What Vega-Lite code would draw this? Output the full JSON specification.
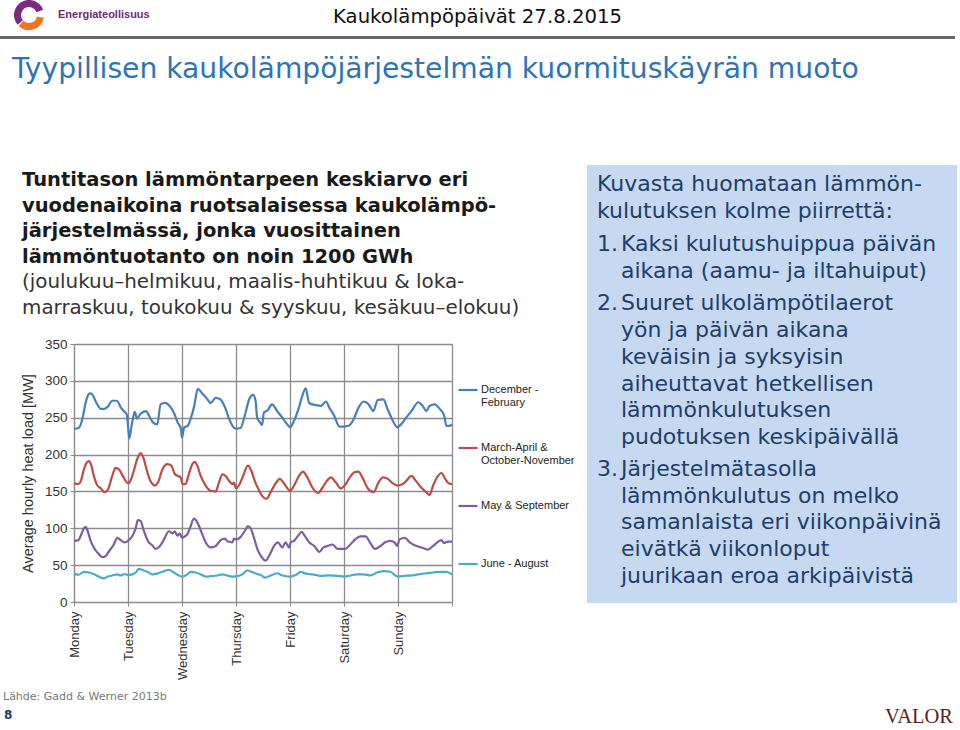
{
  "$schema": "https://vega.github.io/schema/vega-lite/v6.json",
  "background": "white",
  "padding": 0,
  "columns": 4,
  "align": "each",
  "bounds": "flush",
  "spacing": 0,
  "config": {"view": {"stroke": null}},
  "concat": [
    {"width": 74, "height": 36, "data": {"values": [{}]},
     "layer": [
       {"mark": {"type": "arc", "theta": 4.0, "theta2": 7.5, "innerRadius": 8, "outerRadius": 15, "color": "#7A2B7E", "xOffset": -8, "yOffset": -3}, "encoding": {}},
       {"mark": {"type": "arc", "theta": 1.75, "theta2": 3.9, "innerRadius": 8, "outerRadius": 15, "color": "#EE7623", "xOffset": -8, "yOffset": -3}, "encoding": {}}
     ]},
    {"width": 378, "height": 36,
     "encoding": {"x": {"datum": 0, "type": "quantitative", "scale": {"domain": [0, 1]}, "axis": null}, "text": {"field": "t"}},
     "layer": [
       {"data": {"values": [{"t": "Energiateollisuus"}]}, "mark": {"type": "text", "align": "left", "baseline": "middle", "dx": -16, "dy": -3, "font": "Liberation Sans", "fontSize": 11, "fontWeight": "bold", "color": "#6E2B73"}},
       {"data": {"values": [{"t": "Kaukolämpöpäivät 27.8.2015"}]}, "mark": {"type": "text", "align": "left", "baseline": "middle", "dx": 259, "dy": -1, "font": "DejaVu Sans", "fontSize": 19.7, "color": "#111111"}}
     ]},
    {"width": 135, "height": 36, "data": {"values": [{}]}, "mark": {"type": "text", "text": ""}},
    {"width": 370, "height": 36, "data": {"values": [{}]}, "mark": {"type": "text", "text": ""}},

    {"width": 74, "height": 3, "view": {"fill": "#666666"}, "data": {"values": [{}]}, "mark": {"type": "text", "text": ""}},
    {"width": 378, "height": 3, "view": {"fill": "#666666"}, "data": {"values": [{}]}, "mark": {"type": "text", "text": ""}},
    {"width": 135, "height": 3, "view": {"fill": "#666666"}, "data": {"values": [{}]}, "mark": {"type": "text", "text": ""}},
    {"width": 368, "height": 3, "view": {"fill": "#666666"}, "data": {"values": [{}]}, "mark": {"type": "text", "text": ""}},

    {"width": 74, "height": 126,
     "data": {"values": [{"t": "Tyypillisen kaukolämpöjärjestelmän kuormituskäyrän muoto"}]},
     "mark": {"type": "text", "align": "left", "baseline": "middle", "dx": 12, "dy": -32, "font": "DejaVu Sans", "fontSize": 28.2, "color": "#2E74B5"},
     "encoding": {"x": {"datum": 0, "type": "quantitative", "scale": {"domain": [0, 1]}, "axis": null}, "text": {"field": "t"}}},
    {"width": 378, "height": 126, "data": {"values": [{}]}, "mark": {"type": "text", "text": ""}},
    {"width": 135, "height": 126, "data": {"values": [{}]}, "mark": {"type": "text", "text": ""}},
    {"width": 370, "height": 126, "data": {"values": [{}]}, "mark": {"type": "text", "text": ""}},

    {"width": 74, "height": 179, "data": {"values": [{}]}, "mark": {"type": "text", "text": ""}},
    {"width": 378, "height": 179,
     "encoding": {
       "x": {"datum": 0, "type": "quantitative", "scale": {"domain": [0, 1]}, "axis": null},
       "y": {"field": "i", "type": "ordinal", "scale": {"type": "point", "padding": 1.391, "align": 0.297}, "axis": null},
       "text": {"field": "t"}},
     "layer": [
       {"data": {"values": [
         {"i": 0, "t": "Tuntitason lämmöntarpeen keskiarvo eri"},
         {"i": 1, "t": "vuodenaikoina ruotsalaisessa kaukolämpö-"},
         {"i": 2, "t": "järjestelmässä, jonka vuosittainen"},
         {"i": 3, "t": "lämmöntuotanto on noin 1200 GWh"}]},
        "mark": {"type": "text", "align": "left", "baseline": "middle", "dx": -52, "font": "DejaVu Sans", "fontSize": 19.5, "fontWeight": "bold", "color": "#1a1a1a"}},
       {"data": {"values": [
         {"i": 4, "t": "(joulukuu–helmikuu, maalis-huhtikuu & loka-"},
         {"i": 5, "t": "marraskuu, toukokuu & syyskuu, kesäkuu–elokuu)"}]},
        "mark": {"type": "text", "align": "left", "baseline": "middle", "dx": -52, "font": "DejaVu Sans", "fontSize": 19.9, "color": "#333333"}}
     ]},
    {"width": 135, "height": 179, "data": {"values": [{}]}, "mark": {"type": "text", "text": ""}},
    {"width": 370, "height": 179, "view": {"fill": "#C6D9F1"},
     "encoding": {
       "x": {"datum": 0, "type": "quantitative", "scale": {"domain": [0, 1]}, "axis": null},
       "y": {"field": "i", "type": "ordinal", "scale": {"type": "point", "padding": 0.8396, "align": 0.422}, "axis": null}},
     "layer": [
       {"data": {"values": [{"i": 0, "t": "Kuvasta huomataan lämmön-"}, {"i": 1, "t": "kulutuksen kolme piirrettä:"}]},
        "mark": {"type": "text", "align": "left", "baseline": "middle", "dx": 10, "font": "DejaVu Sans", "fontSize": 22, "color": "#213F69"},
        "encoding": {"text": {"field": "t"}}},
       {"data": {"values": [{"i": 2, "n": "1.", "t": "Kaksi kulutushuippua päivän"}, {"i": 3, "n": "", "t": "aikana (aamu- ja iltahuiput)"}]},
        "layer": [
          {"mark": {"type": "text", "align": "left", "baseline": "middle", "dx": 10, "dy": 6.4, "font": "DejaVu Sans", "fontSize": 22, "color": "#213F69"}, "encoding": {"text": {"field": "n"}}},
          {"mark": {"type": "text", "align": "left", "baseline": "middle", "dx": 34, "dy": 6.4, "font": "DejaVu Sans", "fontSize": 22, "color": "#213F69"}, "encoding": {"text": {"field": "t"}}}
        ]},
       {"data": {"values": [{"i": 4, "n": "2.", "t": "Suuret ulkolämpötilaerot"}, {"i": 5, "n": "", "t": "yön ja päivän aikana"}]},
        "layer": [
          {"mark": {"type": "text", "align": "left", "baseline": "middle", "dx": 10, "dy": 12, "font": "DejaVu Sans", "fontSize": 22, "color": "#213F69"}, "encoding": {"text": {"field": "n"}}},
          {"mark": {"type": "text", "align": "left", "baseline": "middle", "dx": 34, "dy": 12, "font": "DejaVu Sans", "fontSize": 22, "color": "#213F69"}, "encoding": {"text": {"field": "t"}}}
        ]}
     ]},

    {"width": 74, "height": 259, "data": {"values": [{}]}, "mark": {"type": "text", "text": ""}},
    {"width": 378, "height": 258,
     "view": {"stroke": "#a0a0a0", "strokeWidth": 1},
     "data": {"values": [
{"s":"December - February","h":0,"v":235},{"s":"December - February","h":2,"v":236},{"s":"December - February","h":4,"v":252},{"s":"December - February","h":5,"v":268},{"s":"December - February","h":6,"v":279},{"s":"December - February","h":7,"v":283},{"s":"December - February","h":8,"v":282},{"s":"December - February","h":10,"v":270},{"s":"December - February","h":12,"v":262},{"s":"December - February","h":13.5,"v":262},{"s":"December - February","h":15,"v":265},{"s":"December - February","h":17,"v":273},{"s":"December - February","h":19,"v":273},{"s":"December - February","h":21,"v":263},{"s":"December - February","h":22.5,"v":258},{"s":"December - February","h":23.5,"v":254},{"s":"December - February","h":24,"v":238},{"s":"December - February","h":24.6,"v":222},{"s":"December - February","h":25.6,"v":239},{"s":"December - February","h":27,"v":258},{"s":"December - February","h":28,"v":249},{"s":"December - February","h":29.5,"v":255},{"s":"December - February","h":32,"v":259},{"s":"December - February","h":33.5,"v":252},{"s":"December - February","h":35,"v":244},{"s":"December - February","h":37,"v":241},{"s":"December - February","h":38.5,"v":268},{"s":"December - February","h":40.5,"v":270},{"s":"December - February","h":42.5,"v":266},{"s":"December - February","h":44.5,"v":256},{"s":"December - February","h":46,"v":244},{"s":"December - February","h":47.5,"v":235},{"s":"December - February","h":48,"v":223},{"s":"December - February","h":49,"v":237},{"s":"December - February","h":50.5,"v":239},{"s":"December - February","h":52,"v":250},{"s":"December - February","h":53.5,"v":267},{"s":"December - February","h":55,"v":289},{"s":"December - February","h":57,"v":283},{"s":"December - February","h":59.3,"v":275},{"s":"December - February","h":60.7,"v":270},{"s":"December - February","h":63,"v":277},{"s":"December - February","h":65,"v":275},{"s":"December - February","h":67.4,"v":262},{"s":"December - February","h":69,"v":248},{"s":"December - February","h":70.4,"v":239},{"s":"December - February","h":72,"v":235},{"s":"December - February","h":74,"v":236},{"s":"December - February","h":76,"v":254},{"s":"December - February","h":78,"v":276},{"s":"December - February","h":79.6,"v":281},{"s":"December - February","h":80.7,"v":273},{"s":"December - February","h":81.4,"v":250},{"s":"December - February","h":82.6,"v":244},{"s":"December - February","h":83.6,"v":240},{"s":"December - February","h":84.4,"v":257},{"s":"December - February","h":86,"v":260},{"s":"December - February","h":88,"v":268},{"s":"December - February","h":90.3,"v":259},{"s":"December - February","h":92.6,"v":250},{"s":"December - February","h":94.8,"v":241},{"s":"December - February","h":96,"v":237},{"s":"December - February","h":97.8,"v":246},{"s":"December - February","h":100,"v":264},{"s":"December - February","h":101.5,"v":280},{"s":"December - February","h":103,"v":290},{"s":"December - February","h":104.5,"v":270},{"s":"December - February","h":107.5,"v":267},{"s":"December - February","h":109.7,"v":266},{"s":"December - February","h":112,"v":272},{"s":"December - February","h":113.4,"v":264},{"s":"December - February","h":115.6,"v":253},{"s":"December - February","h":118,"v":238},{"s":"December - February","h":120,"v":238},{"s":"December - February","h":122,"v":239},{"s":"December - February","h":124.3,"v":248},{"s":"December - February","h":126.5,"v":264},{"s":"December - February","h":128.8,"v":272},{"s":"December - February","h":131,"v":268},{"s":"December - February","h":133,"v":259},{"s":"December - February","h":135,"v":274},{"s":"December - February","h":137.5,"v":275},{"s":"December - February","h":139.3,"v":262},{"s":"December - February","h":141.7,"v":246},{"s":"December - February","h":143.6,"v":237},{"s":"December - February","h":145.4,"v":241},{"s":"December - February","h":147.6,"v":250},{"s":"December - February","h":150,"v":259},{"s":"December - February","h":153,"v":271},{"s":"December - February","h":155,"v":266},{"s":"December - February","h":156.6,"v":259},{"s":"December - February","h":158,"v":266},{"s":"December - February","h":160.3,"v":268},{"s":"December - February","h":162.5,"v":262},{"s":"December - February","h":164.5,"v":253},{"s":"December - February","h":165.5,"v":239},{"s":"December - February","h":167,"v":239},{"s":"December - February","h":168,"v":241},
{"s":"March-April & October-November","h":0,"v":161},{"s":"March-April & October-November","h":2,"v":160},{"s":"March-April & October-November","h":3,"v":164},{"s":"March-April & October-November","h":4.4,"v":180},{"s":"March-April & October-November","h":5.6,"v":189},{"s":"March-April & October-November","h":6.7,"v":191},{"s":"March-April & October-November","h":7.7,"v":185},{"s":"March-April & October-November","h":9,"v":169},{"s":"March-April & October-November","h":10.4,"v":158},{"s":"March-April & October-November","h":12,"v":154},{"s":"March-April & October-November","h":13.6,"v":149},{"s":"March-April & October-November","h":15,"v":152},{"s":"March-April & October-November","h":17,"v":171},{"s":"March-April & October-November","h":18.5,"v":182},{"s":"March-April & October-November","h":20,"v":180},{"s":"March-April & October-November","h":21.5,"v":172},{"s":"March-April & October-November","h":23,"v":164},{"s":"March-April & October-November","h":24,"v":161},{"s":"March-April & October-November","h":25,"v":164},{"s":"March-April & October-November","h":26.4,"v":176},{"s":"March-April & October-November","h":28,"v":193},{"s":"March-April & October-November","h":29.6,"v":202},{"s":"March-April & October-November","h":30.8,"v":196},{"s":"March-April & October-November","h":32.6,"v":176},{"s":"March-April & October-November","h":34,"v":164},{"s":"March-April & October-November","h":36,"v":158},{"s":"March-April & October-November","h":37.3,"v":162},{"s":"March-April & October-November","h":39.3,"v":180},{"s":"March-April & October-November","h":41.5,"v":187},{"s":"March-April & October-November","h":43.3,"v":185},{"s":"March-April & October-November","h":44.7,"v":174},{"s":"March-April & October-November","h":46.2,"v":171},{"s":"March-April & October-November","h":47.4,"v":169},{"s":"March-April & October-November","h":48.3,"v":160},{"s":"March-April & October-November","h":49.5,"v":160},{"s":"March-April & October-November","h":51,"v":173},{"s":"March-April & October-November","h":52.6,"v":187},{"s":"March-April & October-November","h":53.6,"v":190},{"s":"March-April & October-November","h":54.8,"v":185},{"s":"March-April & October-November","h":56.3,"v":171},{"s":"March-April & October-November","h":58.5,"v":158},{"s":"March-April & October-November","h":60.7,"v":151},{"s":"March-April & October-November","h":63,"v":150},{"s":"March-April & October-November","h":64.4,"v":162},{"s":"March-April & October-November","h":66,"v":173},{"s":"March-April & October-November","h":67.4,"v":171},{"s":"March-April & October-November","h":69,"v":164},{"s":"March-April & October-November","h":70.4,"v":160},{"s":"March-April & October-November","h":71.1,"v":162},{"s":"March-April & October-November","h":72,"v":154},{"s":"March-April & October-November","h":73.3,"v":158},{"s":"March-April & October-November","h":75,"v":170},{"s":"March-April & October-November","h":77.3,"v":185},{"s":"March-April & October-November","h":78.8,"v":178},{"s":"March-April & October-November","h":80.5,"v":163},{"s":"March-April & October-November","h":82,"v":153},{"s":"March-April & October-November","h":83.6,"v":144},{"s":"March-April & October-November","h":85.6,"v":140},{"s":"March-April & October-November","h":87.4,"v":149},{"s":"March-April & October-November","h":89.6,"v":161},{"s":"March-April & October-November","h":91.5,"v":167},{"s":"March-April & October-November","h":93.3,"v":161},{"s":"March-April & October-November","h":96,"v":151},{"s":"March-April & October-November","h":97.8,"v":158},{"s":"March-April & October-November","h":100,"v":171},{"s":"March-April & October-November","h":101.8,"v":177},{"s":"March-April & October-November","h":103.7,"v":169},{"s":"March-April & October-November","h":106,"v":155},{"s":"March-April & October-November","h":108.5,"v":148},{"s":"March-April & October-November","h":110.4,"v":155},{"s":"March-April & October-November","h":112.3,"v":164},{"s":"March-April & October-November","h":114.2,"v":169},{"s":"March-April & October-November","h":116.4,"v":162},{"s":"March-April & October-November","h":118.7,"v":154},{"s":"March-April & October-November","h":120.3,"v":158},{"s":"March-April & October-November","h":122.4,"v":168},{"s":"March-April & October-November","h":124.6,"v":176},{"s":"March-April & October-November","h":126.4,"v":177},{"s":"March-April & October-November","h":128.3,"v":168},{"s":"March-April & October-November","h":130.6,"v":154},{"s":"March-April & October-November","h":133.2,"v":149},{"s":"March-April & October-November","h":135.3,"v":162},{"s":"March-April & October-November","h":137.3,"v":169},{"s":"March-April & October-November","h":139.5,"v":167},{"s":"March-April & October-November","h":141.7,"v":161},{"s":"March-April & October-November","h":144,"v":158},{"s":"March-April & October-November","h":147,"v":162},{"s":"March-April & October-November","h":150,"v":171},{"s":"March-April & October-November","h":152,"v":164},{"s":"March-April & October-November","h":154.4,"v":155},{"s":"March-April & October-November","h":156.6,"v":149},{"s":"March-April & October-November","h":158,"v":145},{"s":"March-April & October-November","h":159.6,"v":158},{"s":"March-April & October-November","h":161.8,"v":171},{"s":"March-April & October-November","h":163.3,"v":175},{"s":"March-April & October-November","h":165,"v":167},{"s":"March-April & October-November","h":166.5,"v":161},{"s":"March-April & October-November","h":168,"v":160},
{"s":"May & September","h":0,"v":83},{"s":"May & September","h":2,"v":84},{"s":"May & September","h":3,"v":90},{"s":"May & September","h":4.4,"v":100},{"s":"May & September","h":5.2,"v":102},{"s":"May & September","h":6,"v":97},{"s":"May & September","h":7.4,"v":83},{"s":"May & September","h":9,"v":73},{"s":"May & September","h":11,"v":65},{"s":"May & September","h":12.6,"v":61},{"s":"May & September","h":14,"v":62},{"s":"May & September","h":15.6,"v":69},{"s":"May & September","h":17.5,"v":77},{"s":"May & September","h":19.3,"v":87},{"s":"May & September","h":20.7,"v":84},{"s":"May & September","h":22.5,"v":81},{"s":"May & September","h":24,"v":83},{"s":"May & September","h":26,"v":90},{"s":"May & September","h":27.4,"v":100},{"s":"May & September","h":28.4,"v":111},{"s":"May & September","h":29.6,"v":110},{"s":"May & September","h":31,"v":97},{"s":"May & September","h":33,"v":82},{"s":"May & September","h":34.8,"v":77},{"s":"May & September","h":36.3,"v":72},{"s":"May & September","h":38.2,"v":76},{"s":"May & September","h":40,"v":85},{"s":"May & September","h":42.2,"v":96},{"s":"May & September","h":43.7,"v":93},{"s":"May & September","h":44.7,"v":96},{"s":"May & September","h":46,"v":90},{"s":"May & September","h":47,"v":93},{"s":"May & September","h":48,"v":87},{"s":"May & September","h":49.2,"v":89},{"s":"May & September","h":50.4,"v":92},{"s":"May & September","h":51.6,"v":101},{"s":"May & September","h":53.3,"v":113},{"s":"May & September","h":54.8,"v":108},{"s":"May & September","h":57,"v":92},{"s":"May & September","h":58.5,"v":81},{"s":"May & September","h":60.7,"v":74},{"s":"May & September","h":63,"v":76},{"s":"May & September","h":65.2,"v":84},{"s":"May & September","h":67,"v":86},{"s":"May & September","h":68.4,"v":82},{"s":"May & September","h":70.4,"v":81},{"s":"May & September","h":71.1,"v":86},{"s":"May & September","h":72,"v":85},{"s":"May & September","h":74,"v":88},{"s":"May & September","h":76,"v":97},{"s":"May & September","h":77.3,"v":103},{"s":"May & September","h":78.5,"v":100},{"s":"May & September","h":80,"v":87},{"s":"May & September","h":81.6,"v":71},{"s":"May & September","h":83.6,"v":60},{"s":"May & September","h":85.1,"v":56},{"s":"May & September","h":87.1,"v":65},{"s":"May & September","h":88.9,"v":76},{"s":"May & September","h":90.6,"v":81},{"s":"May & September","h":92.6,"v":74},{"s":"May & September","h":94,"v":81},{"s":"May & September","h":95.6,"v":74},{"s":"May & September","h":96.3,"v":81},{"s":"May & September","h":97.8,"v":83},{"s":"May & September","h":99.6,"v":90},{"s":"May & September","h":101.2,"v":95},{"s":"May & September","h":102.5,"v":90},{"s":"May & September","h":104.5,"v":81},{"s":"May & September","h":106.8,"v":76},{"s":"May & September","h":109,"v":68},{"s":"May & September","h":110.9,"v":74},{"s":"May & September","h":112.7,"v":76},{"s":"May & September","h":114.9,"v":78},{"s":"May & September","h":117.1,"v":72},{"s":"May & September","h":119.4,"v":72},{"s":"May & September","h":120.6,"v":72},{"s":"May & September","h":122.5,"v":77},{"s":"May & September","h":125,"v":85},{"s":"May & September","h":127.3,"v":89},{"s":"May & September","h":129.6,"v":89},{"s":"May & September","h":131.5,"v":81},{"s":"May & September","h":133.8,"v":72},{"s":"May & September","h":136.2,"v":76},{"s":"May & September","h":138.3,"v":81},{"s":"May & September","h":140.6,"v":83},{"s":"May & September","h":142.4,"v":81},{"s":"May & September","h":143.6,"v":76},{"s":"May & September","h":144.7,"v":85},{"s":"May & September","h":147,"v":87},{"s":"May & September","h":149.2,"v":81},{"s":"May & September","h":151.4,"v":77},{"s":"May & September","h":154.4,"v":74},{"s":"May & September","h":157.3,"v":71},{"s":"May & September","h":159.6,"v":76},{"s":"May & September","h":161.5,"v":81},{"s":"May & September","h":163.3,"v":84},{"s":"May & September","h":164.5,"v":80},{"s":"May & September","h":166.2,"v":82},{"s":"May & September","h":168,"v":82},
{"s":"June - August","h":0,"v":38.5},{"s":"June - August","h":2,"v":37},{"s":"June - August","h":4.4,"v":41},{"s":"June - August","h":6.7,"v":40},{"s":"June - August","h":9,"v":37.5},{"s":"June - August","h":11,"v":34.5},{"s":"June - August","h":13.3,"v":32},{"s":"June - August","h":15,"v":34.5},{"s":"June - August","h":17,"v":36},{"s":"June - August","h":19.3,"v":37.5},{"s":"June - August","h":20.7,"v":36},{"s":"June - August","h":22.5,"v":38},{"s":"June - August","h":24,"v":36.5},{"s":"June - August","h":26,"v":37.5},{"s":"June - August","h":27.4,"v":40},{"s":"June - August","h":28.9,"v":45},{"s":"June - August","h":30.4,"v":43.5},{"s":"June - August","h":32.6,"v":41},{"s":"June - August","h":34.8,"v":37.5},{"s":"June - August","h":37,"v":38.5},{"s":"June - August","h":39.3,"v":41},{"s":"June - August","h":42.2,"v":43.5},{"s":"June - August","h":44.4,"v":40},{"s":"June - August","h":46.2,"v":36.5},{"s":"June - August","h":48,"v":34.5},{"s":"June - August","h":49.6,"v":36},{"s":"June - August","h":52,"v":41},{"s":"June - August","h":54,"v":40},{"s":"June - August","h":56.3,"v":37.5},{"s":"June - August","h":58.5,"v":34.5},{"s":"June - August","h":60.7,"v":35},{"s":"June - August","h":63.7,"v":36},{"s":"June - August","h":66,"v":37.5},{"s":"June - August","h":68,"v":36},{"s":"June - August","h":70.4,"v":34.5},{"s":"June - August","h":72.6,"v":35},{"s":"June - August","h":74.8,"v":37.5},{"s":"June - August","h":77,"v":43},{"s":"June - August","h":79.3,"v":40.5},{"s":"June - August","h":81.5,"v":38},{"s":"June - August","h":83,"v":36.5},{"s":"June - August","h":85,"v":33},{"s":"June - August","h":87.4,"v":36},{"s":"June - August","h":90.3,"v":39},{"s":"June - August","h":92.6,"v":36},{"s":"June - August","h":96,"v":34.5},{"s":"June - August","h":98.5,"v":36.5},{"s":"June - August","h":100.8,"v":41},{"s":"June - August","h":103,"v":38.5},{"s":"June - August","h":106,"v":37.5},{"s":"June - August","h":109.7,"v":35.5},{"s":"June - August","h":113.4,"v":36},{"s":"June - August","h":117,"v":35.5},{"s":"June - August","h":120,"v":34.5},{"s":"June - August","h":123,"v":36},{"s":"June - August","h":125.8,"v":37.5},{"s":"June - August","h":128.8,"v":37.5},{"s":"June - August","h":131.8,"v":36},{"s":"June - August","h":134.7,"v":40},{"s":"June - August","h":137.7,"v":42},{"s":"June - August","h":140.6,"v":41},{"s":"June - August","h":142.8,"v":36},{"s":"June - August","h":144,"v":34.5},{"s":"June - August","h":147,"v":35.5},{"s":"June - August","h":150,"v":36},{"s":"June - August","h":153,"v":37.5},{"s":"June - August","h":156.6,"v":39},{"s":"June - August","h":159.6,"v":40},{"s":"June - August","h":162.5,"v":41},{"s":"June - August","h":165.5,"v":41},{"s":"June - August","h":168,"v":37.5}
     ]},
     "mark": {"type": "line", "strokeWidth": 2.2, "interpolate": "monotone"},
     "encoding": {
       "x": {"field": "h", "type": "quantitative",
             "scale": {"domain": [0, 168], "nice": false, "zero": false},
             "axis": {"values": [0, 24, 48, 72, 96, 120, 144, 168], "title": null,
                      "labelExpr": "['Monday','Tuesday','Wednesday','Thursday','Friday','Saturday','Sunday',''][round(datum.value / 24)]",
                      "labelAngle": -90, "labelAlign": "right", "labelBaseline": "middle", "labelFlush": false, "labelOverlap": false,
                      "labelFont": "Liberation Sans", "labelFontSize": 13, "labelColor": "#333333", "labelPadding": 5,
                      "tickSize": 4, "tickColor": "#8c8c8c", "domainColor": "#8c8c8c", "domainWidth": 1.2,
                      "gridColor": "#8c8c8c", "gridWidth": 1.3, "gridOpacity": 1}},
       "y": {"field": "v", "type": "quantitative",
             "scale": {"domain": [0, 350], "nice": false},
             "axis": {"values": [0, 50, 100, 150, 200, 250, 300, 350], "title": "Average hourly  heat load [MW]",
                      "titleFont": "Liberation Sans", "titleFontSize": 14.5, "titleFontWeight": "normal", "titleColor": "#333333", "titlePadding": 9,
                      "labelFont": "Liberation Sans", "labelFontSize": 13.5, "labelColor": "#333333", "labelPadding": 3, "labelFlush": false,
                      "tickSize": 4, "tickColor": "#8c8c8c", "domainColor": "#8c8c8c", "domainWidth": 1.2,
                      "gridColor": "#8c8c8c", "gridWidth": 1.3, "gridOpacity": 1}},
       "color": {"field": "s", "type": "nominal",
                 "scale": {"domain": ["December - February", "March-April & October-November", "May & September", "June - August"],
                           "range": ["#4A7EBB", "#BE4B48", "#7D5FA0", "#4BACC6"]},
                 "legend": {"orient": "none", "legendX": 457, "legendY": 379, "title": null, "padding": 0,
                            "symbolType": "stroke", "symbolSize": 360, "symbolStrokeWidth": 2.2,
                            "labelFont": "Liberation Sans", "labelFontSize": 11, "labelColor": "#222222", "labelOffset": 2, "labelLimit": 200,
                            "rowPadding": 29,
                            "labelExpr": "datum.label == 'December - February' ? ['December -', 'February'] : datum.label == 'March-April & October-November' ? ['March-April &', 'October-November'] : [datum.label, '']"}}
     }},
    {"width": 135, "height": 259, "data": {"values": [{}]}, "mark": {"type": "text", "text": ""}},
    {"width": 370, "height": 259, "view": {"fill": "#C6D9F1"},
     "encoding": {
       "x": {"datum": 0, "type": "quantitative", "scale": {"domain": [0, 1]}, "axis": null},
       "y": {"field": "i", "type": "ordinal", "scale": {"type": "point", "padding": 0.85, "align": 0.286}, "axis": null}},
     "layer": [
       {"data": {"values": [
          {"i": 0, "t": "keväisin ja syksyisin"},
          {"i": 1, "t": "aiheuttavat hetkellisen"},
          {"i": 2, "t": "lämmönkulutuksen"},
          {"i": 3, "t": "pudotuksen keskipäivällä"}]},
        "mark": {"type": "text", "align": "left", "baseline": "middle", "dx": 34, "font": "DejaVu Sans", "fontSize": 22, "color": "#213F69"},
        "encoding": {"text": {"field": "t"}}},
       {"data": {"values": [
          {"i": 4, "n": "3.", "t": "Järjestelmätasolla"},
          {"i": 5, "n": "", "t": "lämmönkulutus on melko"},
          {"i": 6, "n": "", "t": "samanlaista eri viikonpäivinä"},
          {"i": 7, "n": "", "t": "eivätkä viikonloput"},
          {"i": 8, "n": "", "t": "juurikaan eroa arkipäivistä"}]},
        "layer": [
          {"mark": {"type": "text", "align": "left", "baseline": "middle", "dx": 10, "dy": 5.3, "font": "DejaVu Sans", "fontSize": 22, "color": "#213F69"}, "encoding": {"text": {"field": "n"}}},
          {"mark": {"type": "text", "align": "left", "baseline": "middle", "dx": 34, "dy": 5.3, "font": "DejaVu Sans", "fontSize": 22, "color": "#213F69"}, "encoding": {"text": {"field": "t"}}}
        ]}
     ]},

    {"width": 74, "height": 127,
     "encoding": {"x": {"datum": 0, "type": "quantitative", "scale": {"domain": [0, 1]}, "axis": null}, "text": {"field": "t"}},
     "layer": [
       {"data": {"values": [{"t": "Lähde: Gadd & Werner 2013b"}]}, "mark": {"type": "text", "align": "left", "baseline": "middle", "dx": 3, "dy": 30.5, "font": "DejaVu Sans", "fontSize": 11, "color": "#777777"}},
       {"data": {"values": [{"t": "8"}]}, "mark": {"type": "text", "align": "left", "baseline": "middle", "dx": 4, "dy": 48.5, "font": "DejaVu Sans", "fontSize": 12, "fontWeight": "bold", "color": "#1F3864"}}
     ]},
    {"width": 378, "height": 127, "data": {"values": [{}]}, "mark": {"type": "text", "text": ""}},
    {"width": 135, "height": 127, "data": {"values": [{}]}, "mark": {"type": "text", "text": ""}},
    {"width": 370, "height": 127,
     "data": {"values": [{"t": "VALOR"}]},
     "mark": {"type": "text", "align": "right", "baseline": "middle", "dx": -4, "dy": 50.5, "font": "Liberation Serif", "fontSize": 20.5, "color": "#5B1F24"},
     "encoding": {"x": {"datum": 1, "type": "quantitative", "scale": {"domain": [0, 1]}, "axis": null}, "text": {"field": "t"}}}
  ]
}
